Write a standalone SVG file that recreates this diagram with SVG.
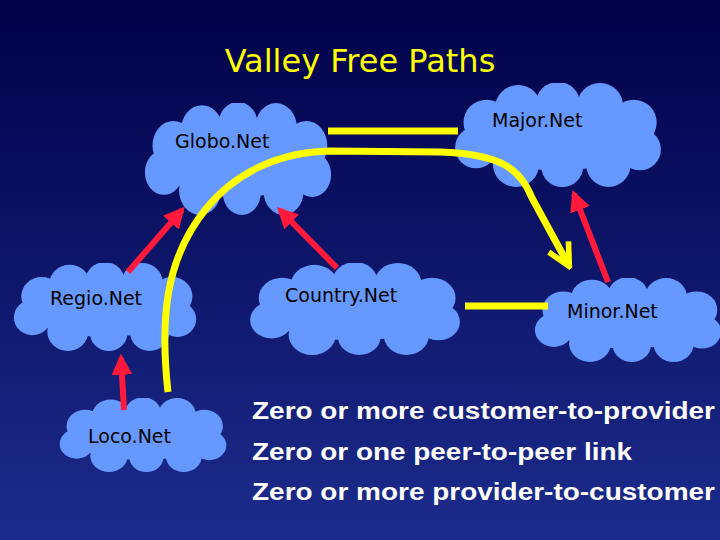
<svg xmlns="http://www.w3.org/2000/svg" width="720" height="540" viewBox="0 0 720 540">
<defs>
<linearGradient id="bg" x1="0" y1="0" x2="0" y2="1"><stop offset="0" stop-color="#000048"/><stop offset="1" stop-color="#1c2c8c"/></linearGradient>
<symbol id="cloud" viewBox="0 0 200 100" preserveAspectRatio="none">
<g fill="#6699ff">
<ellipse cx="100" cy="52" rx="85" ry="32"/>
<circle cx="32" cy="38" r="22"/><circle cx="62" cy="24" r="22"/><circle cx="100" cy="20" r="21"/><circle cx="140" cy="22" r="22"/><circle cx="172" cy="38" r="22"/><circle cx="178" cy="64" r="20"/><circle cx="148" cy="79" r="21"/><circle cx="104" cy="80" r="20"/><circle cx="60" cy="78" r="22"/><circle cx="22" cy="62" r="20"/>
</g></symbol>
<marker id="red" viewBox="0 0 10 10" refX="8" refY="5" markerWidth="3.5" markerHeight="3.5" orient="auto" markerUnits="strokeWidth"><path d="M0,0 L10,5 L0,10 Z" fill="#ff1a3c"/></marker>
<marker id="yel" viewBox="0 0 10 10" refX="8" refY="5" markerWidth="4" markerHeight="4" orient="auto" markerUnits="strokeWidth"><path d="M1,1 L9,5 L1,9" fill="none" stroke="#ffff00" stroke-width="2"/></marker>
<style>
.lbl{font-family:"DejaVu Sans",sans-serif;font-size:19px;fill:#000}
.red{stroke:#ff1a3c;stroke-width:6;fill:none;marker-end:url(#red)}
.y{stroke:#ffff00;stroke-width:7;fill:none}
.t{font-family:"Liberation Sans",Arial,sans-serif;font-weight:bold;font-size:24px;fill:#fff}
</style>
</defs>
<rect width="720" height="540" fill="url(#bg)"/>
<text x="360" y="72" text-anchor="middle" font-family="DejaVu Sans,sans-serif" font-size="32" fill="#ffff00">Valley Free Paths</text>
<g id="globonet"><use href="#cloud" x="143" y="103" width="190" height="112"/><text class="lbl" x="175" y="148">Globo.Net</text></g>
<g id="majornet"><use href="#cloud" x="453" y="83" width="210" height="104"/><text class="lbl" x="492" y="127">Major.Net</text></g>
<g id="regionet"><use href="#cloud" x="12" y="263" width="186" height="88"/><text class="lbl" x="50" y="305">Regio.Net</text></g>
<g id="countrynet"><use href="#cloud" x="248" y="263" width="214" height="92"/><text class="lbl" x="285" y="302">Country.Net</text></g>
<g id="minornet"><use href="#cloud" x="533" y="278" width="190" height="84"/><text class="lbl" x="567" y="318">Minor.Net</text></g>
<g id="loconet"><use href="#cloud" x="58" y="398" width="170" height="74"/><text class="lbl" x="88" y="443">Loco.Net</text></g>
<g id="connectors">
<line class="y" x1="328" y1="131" x2="458" y2="131"/>
<line class="y" x1="465" y1="306" x2="548" y2="306"/>
<path class="y" marker-end="url(#yel)" d="M168,392 C160,320 165,260 205,210 C235,172 280,152 330,151 L440,152 C500,154 520,168 532,198 L568,264"/>
<line class="red" x1="128" y1="272" x2="182" y2="210"/>
<line class="red" x1="337" y1="268" x2="280" y2="210"/>
<line class="red" x1="124" y1="410" x2="121" y2="358"/>
<line class="red" x1="608" y1="282" x2="574" y2="194"/>
</g>
<text class="t" x="252" y="419" textLength="463" lengthAdjust="spacingAndGlyphs">Zero or more customer-to-provider</text>
<text class="t" x="252" y="460" textLength="380" lengthAdjust="spacingAndGlyphs">Zero or one peer-to-peer link</text>
<text class="t" x="252" y="500" textLength="463" lengthAdjust="spacingAndGlyphs">Zero or more provider-to-customer</text>
</svg>
